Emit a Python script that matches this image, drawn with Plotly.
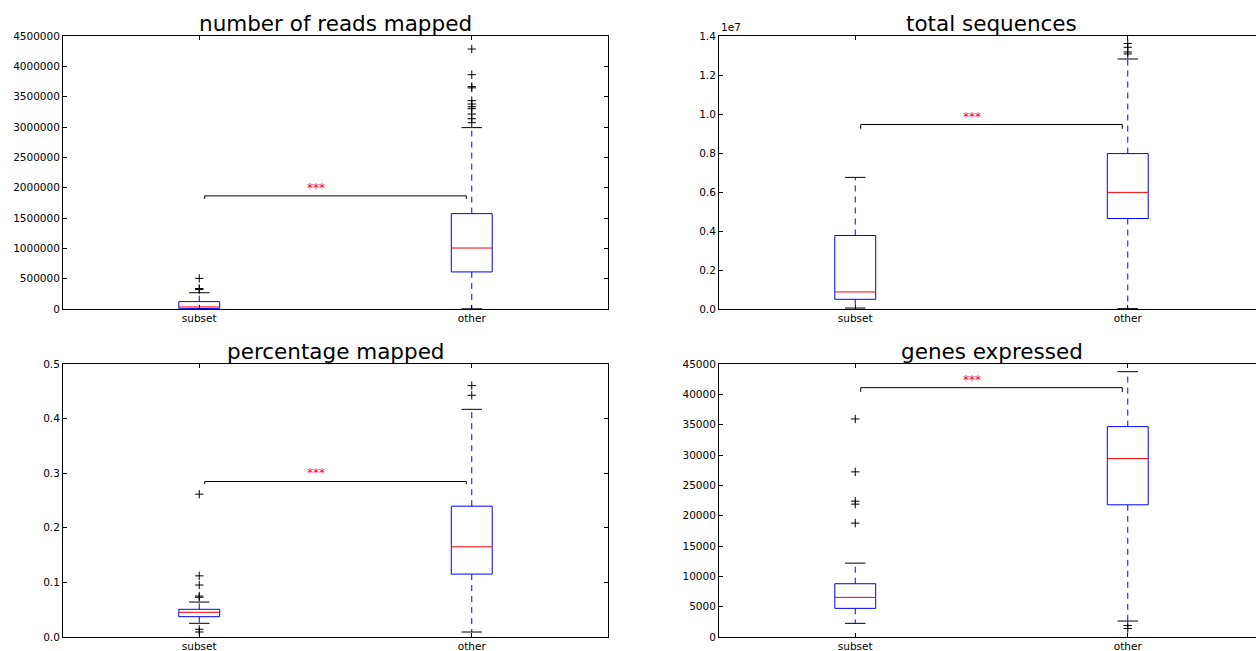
import plotly.graph_objects as go

# ---- data -------------------------------------------------------------
categories = ["subset", "other"]
positions = [1, 2]

titles = ["number of reads mapped", "total sequences",
          "percentage mapped", "genes expressed"]

# number of reads mapped  [subset, other]
reads_q1 = [10000, 611000]
reads_median = [35000, 1005000]
reads_q3 = [122000, 1572000]
reads_whisker_low = [2000, 3000]
reads_whisker_high = [268000, 2990000]
reads_fliers = [
    [505000, 338000, 320000],
    [4285000, 3862000, 3665000, 3645000, 3434000, 3379000, 3335000,
     3302000, 3214000, 3137000, 3071000],
]
reads_bracket = 1865000
reads_bracket_drop = 1815000

# total sequences
seqs_q1 = [497000, 4640000]
seqs_median = [874000, 5980000]
seqs_q3 = [3770000, 7970000]
seqs_whisker_low = [50000, 20000]
seqs_whisker_high = [6750000, 12820000]
seqs_fliers = [
    [],
    [13620000, 13420000, 13180000, 13080000],
]
seqs_bracket = 9460000
seqs_bracket_drop = 9240000

# percentage mapped
pct_q1 = [0.0372, 0.1152]
pct_median = [0.0452, 0.1652]
pct_q3 = [0.0507, 0.2396]
pct_whisker_low = [0.0251, 0.0091]
pct_whisker_high = [0.0640, 0.4170]
pct_fliers = [
    [0.2616, 0.1120, 0.0952, 0.0750, 0.0728, 0.0141, 0.0092],
    [0.4604, 0.4427],
]
pct_bracket = 0.2848
pct_bracket_drop = 0.2800

# genes expressed
genes_q1 = [4720, 21790]
genes_median = [6530, 29410]
genes_q3 = [8780, 34680]
genes_whisker_low = [2250, 2630]
genes_whisker_high = [12180, 43730]
genes_fliers = [
    [35940, 27220, 22390, 21900, 18770],
    [1900, 1400],
]
genes_bracket = 41100
genes_bracket_drop = 40380

significance = "***"
significance_x = 1.43

# ---- styling ------------------------------------------------------------
BOX_W = 0.15
CAP_W = BOX_W / 2
BLUE = "#0000ff"
RED = "#ff0000"
BLACK = "#000000"
FONT = "DejaVu Sans"

W, H = 1256, 651

panels = [
    dict(q1=reads_q1, med=reads_median, q3=reads_q3, lo=reads_whisker_low,
         hi=reads_whisker_high, fl=reads_fliers, br=reads_bracket,
         brd=reads_bracket_drop, yr=[0, 4500000],
         tv=[i * 500000 for i in range(10)],
         tt=[str(i * 500000) for i in range(10)]),
    dict(q1=seqs_q1, med=seqs_median, q3=seqs_q3, lo=seqs_whisker_low,
         hi=seqs_whisker_high, fl=seqs_fliers, br=seqs_bracket,
         brd=seqs_bracket_drop, yr=[0, 14000000],
         tv=[i * 2000000 for i in range(8)],
         tt=["%.1f" % (i * 0.2) for i in range(8)]),
    dict(q1=pct_q1, med=pct_median, q3=pct_q3, lo=pct_whisker_low,
         hi=pct_whisker_high, fl=pct_fliers, br=pct_bracket,
         brd=pct_bracket_drop, yr=[0, 0.5],
         tv=[i * 0.1 for i in range(6)],
         tt=["%.1f" % (i * 0.1) for i in range(6)]),
    dict(q1=genes_q1, med=genes_median, q3=genes_q3, lo=genes_whisker_low,
         hi=genes_whisker_high, fl=genes_fliers, br=genes_bracket,
         brd=genes_bracket_drop, yr=[0, 45000],
         tv=[i * 5000 for i in range(10)],
         tt=[str(i * 5000) for i in range(10)]),
]

# axes rectangles in pixels: (left, right, top, bottom)
rects = [(63, 608, 36, 309), (719, 1256, 36, 309),
         (63, 608, 364, 637), (719, 1256, 364, 637)]
PX_PER_UNIT = (608 - 63) / 2.0

fig = go.Figure()


def line(xs, ys, axn, color, dash="solid"):
    xa = "x" if axn == 1 else "x%d" % axn
    ya = "y" if axn == 1 else "y%d" % axn
    fig.add_trace(go.Scatter(x=xs, y=ys, xaxis=xa, yaxis=ya, mode="lines",
                             line=dict(color=color, width=1, dash=dash),
                             hoverinfo="skip", showlegend=False))


for k, p in enumerate(panels):
    axn = k + 1
    xa = "x" if axn == 1 else "x%d" % axn
    ya = "y" if axn == 1 else "y%d" % axn
    for i, pos in enumerate(positions):
        q1, med, q3 = p["q1"][i], p["med"][i], p["q3"][i]
        lo, hi = p["lo"][i], p["hi"][i]
        # whiskers
        line([pos, pos], [q3, hi], axn, BLUE, "6px,5px")
        line([pos, pos], [q1, lo], axn, BLUE, "6px,5px")
        # caps
        line([pos - CAP_W / 2, pos + CAP_W / 2], [hi, hi], axn, BLACK)
        line([pos - CAP_W / 2, pos + CAP_W / 2], [lo, lo], axn, BLACK)
        # box
        x0, x1 = pos - BOX_W / 2, pos + BOX_W / 2
        line([x0, x1, x1, x0, x0], [q1, q1, q3, q3, q1], axn, BLUE)
        # median
        line([x0, x1], [med, med], axn, RED)
        # fliers
        if p["fl"][i]:
            fig.add_trace(go.Scatter(
                x=[pos] * len(p["fl"][i]), y=p["fl"][i], xaxis=xa, yaxis=ya,
                mode="markers", hoverinfo="skip", showlegend=False,
                marker=dict(symbol="cross-thin", size=6,
                            line=dict(color=BLACK, width=1), color=BLACK)))
    # significance bracket
    line([1.02, 1.02, 1.98, 1.98], [p["brd"], p["br"], p["br"], p["brd"]],
         axn, BLACK)
    fig.add_annotation(x=significance_x, y=p["br"], xref=xa, yref=ya,
                       text=significance, showarrow=False, yanchor="bottom",
                       yshift=-1, font=dict(family=FONT, size=12, color=RED))

layout = dict(width=W, height=H, margin=dict(l=0, r=0, t=0, b=0),
              template="none", paper_bgcolor="white", plot_bgcolor="white",
              font=dict(family=FONT, size=10.5, color=BLACK))

for k, p in enumerate(panels):
    axn = k + 1
    left, right, top, bottom = rects[k]
    xkey = "xaxis" if axn == 1 else "xaxis%d" % axn
    ykey = "yaxis" if axn == 1 else "yaxis%d" % axn
    xr = [0.5, 0.5 + (right - left) / PX_PER_UNIT]
    is_right = k in (1, 3)
    layout[xkey] = dict(
        domain=[left / W, right / W], range=xr,
        anchor="y" if axn == 1 else "y%d" % axn, automargin=False,
        tickvals=positions, ticktext=categories, ticks="inside", ticklen=4,
        ticklabelstandoff=-1,
        tickcolor=BLACK, showline=True, linecolor=BLACK, linewidth=1,
        mirror="ticks", showgrid=False, zeroline=False, fixedrange=True,
        tickfont=dict(family=FONT, size=10.5, color=BLACK))
    layout[ykey] = dict(
        domain=[1 - bottom / H, 1 - top / H], range=p["yr"],
        anchor="x" if axn == 1 else "x%d" % axn, automargin=False,
        tickvals=p["tv"], ticktext=p["tt"], ticks="inside", ticklen=4,
        tickcolor=BLACK, showline=True, linecolor=BLACK, linewidth=1,
        mirror=False if is_right else "ticks", showgrid=False,
        zeroline=False, fixedrange=True,
        tickfont=dict(family=FONT, size=10.5, color=BLACK))

fig.update_layout(**layout)

# subplot titles
for k, title in enumerate(titles):
    left, right, top, bottom = rects[k]
    if k in (1, 3):
        right = left + 2 * PX_PER_UNIT
    fig.add_annotation(x=(left + right) / 2 / W, y=1 - top / H, xref="paper",
                       yref="paper", text=title, showarrow=False,
                       yanchor="bottom", xanchor="center", yshift=-2,
                       font=dict(family=FONT, size=21.5, color=BLACK))

# offset label of the total-sequences axis
fig.add_annotation(x=rects[1][0] / W, y=1 - rects[1][2] / H, xref="paper",
                   yref="paper", text="1e7", showarrow=False,
                   xanchor="left", yanchor="bottom", yshift=1,
                   font=dict(family=FONT, size=10.5, color=BLACK))

fig.write_html("out.html")
